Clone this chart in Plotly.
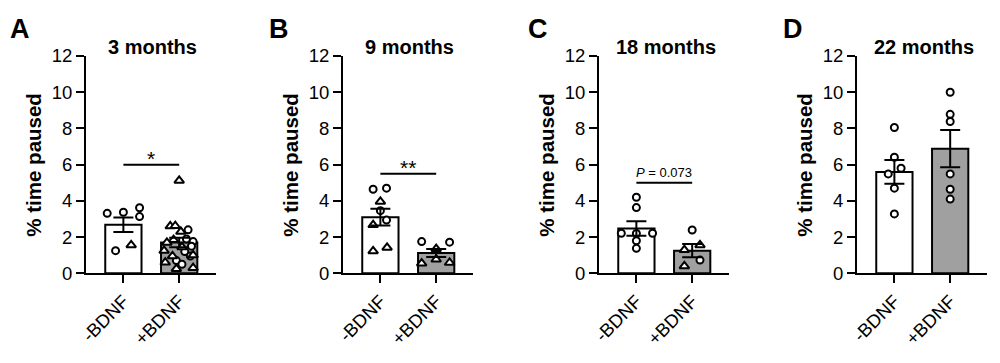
import plotly.graph_objects as go

W, H = 1000, 363

panel_letters = ["A", "B", "C", "D"]
panel_titles = ["3 months", "9 months", "18 months", "22 months"]
categories = ["-BDNF", "+BDNF"]
y_ticks = [0, 2, 4, 6, 8, 10, 12]
y_label = "% time paused"

# bar heights (mean) and SEM: [-BDNF, +BDNF]
means_a = [2.68, 1.70]
sem_a = [0.40, 0.26]
means_b = [3.10, 1.12]
sem_b = [0.46, 0.22]
means_c = [2.48, 1.25]
sem_c = [0.40, 0.37]
means_d = [5.60, 6.88]
sem_d = [0.65, 1.03]

# individual points: values and horizontal jitter (category units)
a_minus_circles = [3.31, 3.37, 3.62, 3.13, 1.25]
a_minus_circles_dx = [-0.29, 0.0, 0.29, 0.29, -0.14]
a_minus_triangles = [1.56]
a_minus_triangles_dx = [0.14]
a_plus_circles = [2.40, 1.90, 1.75, 1.50, 1.20, 0.95, 0.70, 0.50]
a_plus_circles_dx = [0.16, 0.13, 0.25, 0.22, 0.10, 0.20, -0.05, 0.05]
a_plus_triangles = [5.12, 2.60, 2.62, 2.30, 1.85, 1.70, 1.45, 1.25, 1.00, 0.95, 0.60, 0.30, 0.25]
a_plus_triangles_dx = [0.0, -0.16, -0.07, 0.03, -0.10, -0.22, 0.05, -0.27, 0.25, -0.12, -0.25, 0.25, -0.05]

b_minus_circles = [4.64, 4.70, 3.46, 2.94]
b_minus_circles_dx = [-0.13, 0.11, 0.0, 0.11]
b_minus_triangles = [3.96, 2.67, 1.23, 1.42]
b_minus_triangles_dx = [0.0, -0.13, -0.13, 0.12]
b_plus_circles = [1.75, 1.72]
b_plus_circles_dx = [-0.26, 0.24]
b_plus_triangles = [1.35, 0.77, 0.55, 0.59]
b_plus_triangles_dx = [0.0, 0.0, -0.26, 0.24]

c_minus_circles = [4.20, 3.63, 2.21, 2.21, 2.20, 1.80, 1.38]
c_minus_circles_dx = [0.0, 0.0, -0.27, 0.29, 0.0, 0.0, 0.0]
c_minus_triangles = []
c_minus_triangles_dx = []
c_plus_circles = [2.39, 0.73]
c_plus_circles_dx = [0.0, 0.14]
c_plus_triangles = [1.29, 1.56, 0.40]
c_plus_triangles_dx = [-0.14, 0.14, -0.14]

d_minus_circles = [8.05, 6.41, 5.80, 5.49, 4.70, 3.28]
d_minus_circles_dx = [0.0, 0.0, 0.12, -0.11, 0.0, 0.0]
d_minus_triangles = []
d_minus_triangles_dx = []
d_plus_circles = [10.0, 8.78, 8.38, 5.49, 4.64, 4.10]
d_plus_circles_dx = [0.0, 0.0, 0.0, 0.0, 0.0, 0.0]
d_plus_triangles = []
d_plus_triangles_dx = []

# significance annotations: (label, bar height)
sig_labels = ["*", "**", "<i>P</i> = 0.073", None]
sig_heights = [6.0, 5.5, 5.0, None]

panels = [
    (means_a, sem_a, [(a_minus_circles, a_minus_circles_dx, a_minus_triangles, a_minus_triangles_dx),
                      (a_plus_circles, a_plus_circles_dx, a_plus_triangles, a_plus_triangles_dx)]),
    (means_b, sem_b, [(b_minus_circles, b_minus_circles_dx, b_minus_triangles, b_minus_triangles_dx),
                      (b_plus_circles, b_plus_circles_dx, b_plus_triangles, b_plus_triangles_dx)]),
    (means_c, sem_c, [(c_minus_circles, c_minus_circles_dx, c_minus_triangles, c_minus_triangles_dx),
                      (c_plus_circles, c_plus_circles_dx, c_plus_triangles, c_plus_triangles_dx)]),
    (means_d, sem_d, [(d_minus_circles, d_minus_circles_dx, d_minus_triangles, d_minus_triangles_dx),
                      (d_plus_circles, d_plus_circles_dx, d_plus_triangles, d_plus_triangles_dx)]),
]

# layout geometry (pixels)
axis_left_px = [86, 343, 599, 857]
axis_len_px = 130
plot_top_px = 56
plot_bottom_px = 273.3
letter_left_px = [8, 267, 526, 781]

FONT = "Liberation Sans, Arial, sans-serif"
BAR_FILLS = ["white", "#a0a0a0"]

fig = go.Figure()
layout = dict(
    width=W, height=H,
    template="none",
    margin=dict(l=0, r=0, t=0, b=0, pad=0),
    paper_bgcolor="white", plot_bgcolor="white",
    showlegend=False,
    font=dict(family=FONT, color="black", size=18),
    annotations=[], shapes=[],
)

def px_x(p):
    return p / W

def px_y(p):
    return 1 - p / H

for i, (means, sems, groups) in enumerate(panels):
    xa = "x" if i == 0 else f"x{i+1}"
    ya = "y" if i == 0 else f"y{i+1}"
    xkey = "xaxis" if i == 0 else f"xaxis{i+1}"
    ykey = "yaxis" if i == 0 else f"yaxis{i+1}"

    x0 = axis_left_px[i]
    layout[xkey] = dict(
        domain=[px_x(x0), px_x(x0 + axis_len_px)], anchor=ya, automargin=False,
        range=[-0.67, 1.66], tickmode="array", tickvals=[0, 1], ticktext=categories,
        tickangle=-45, ticks="outside", ticklen=8, tickwidth=2, tickcolor="black",
        showline=True, linewidth=2, linecolor="black", showgrid=False, zeroline=False,
        tickfont=dict(size=18.5, family=FONT, color="black"), fixedrange=True,
    )
    layout[ykey] = dict(
        domain=[px_y(plot_bottom_px), px_y(plot_top_px)], anchor=xa, automargin=False,
        range=[0, 12], tickmode="array", tickvals=y_ticks,
        ticks="outside", ticklen=8, tickwidth=2, tickcolor="black",
        showline=True, linewidth=2, linecolor="black", showgrid=False, zeroline=False,
        tickfont=dict(size=18.5, family=FONT, color="black"), fixedrange=True,
    )

    fig.add_trace(go.Bar(
        x=[0, 1], y=means, width=0.65, xaxis=xa, yaxis=ya,
        marker=dict(color=BAR_FILLS, line=dict(color="black", width=2)),
        hoverinfo="skip",
    ))

    for g, (circ, circ_dx, tri, tri_dx) in enumerate(groups):
        if circ:
            fig.add_trace(go.Scatter(
                x=[g + d for d in circ_dx], y=circ, mode="markers", xaxis=xa, yaxis=ya,
                cliponaxis=False,
                marker=dict(symbol="circle", size=7, color="white",
                            line=dict(color="black", width=2)),
            ))
        if tri:
            fig.add_trace(go.Scatter(
                x=[g + d for d in tri_dx], y=tri, mode="markers", xaxis=xa, yaxis=ya,
                cliponaxis=False,
                marker=dict(symbol="triangle-up", size=8.5, color="white",
                            line=dict(color="black", width=2)),
            ))

    fig.add_trace(go.Scatter(
        x=[0, 1], y=means, mode="markers", xaxis=xa, yaxis=ya,
        marker=dict(size=1, opacity=0), cliponaxis=False,
        error_y=dict(type="data", array=sems, visible=True, color="black",
                     thickness=2, width=10),
        hoverinfo="skip",
    ))

    # significance bar
    if sig_heights[i] is not None:
        layout["shapes"].append(dict(
            type="line", xref=xa, yref=ya, x0=0, x1=1,
            y0=sig_heights[i], y1=sig_heights[i],
            line=dict(color="black", width=2),
        ))
        is_p = sig_labels[i].startswith("<i>")
        layout["annotations"].append(dict(
            xref=xa, yref=ya, x=0.5, y=sig_heights[i], text=sig_labels[i],
            showarrow=False, xanchor="center", yanchor="bottom",
            yshift=(1 if is_p else -7),
            font=dict(size=(13 if is_p else 21), family=FONT, color="black"),
        ))

    # panel title
    layout["annotations"].append(dict(
        xref="paper", yref="paper", x=px_x(x0 + axis_len_px / 2 + 1.5), y=px_y(47),
        text=f"<b>{panel_titles[i]}</b>", showarrow=False,
        xanchor="center", yanchor="middle",
        font=dict(size=20, family=FONT, color="black"),
    ))
    # y-axis title
    layout["annotations"].append(dict(
        xref="paper", yref="paper", x=px_x(x0 - 52), y=px_y((plot_top_px + plot_bottom_px) / 2),
        text=f"<b>{y_label}</b>", showarrow=False, textangle=-90,
        xanchor="center", yanchor="middle",
        font=dict(size=20.5, family=FONT, color="black"),
    ))
    # panel letter
    layout["annotations"].append(dict(
        xref="paper", yref="paper", x=px_x(letter_left_px[i]), y=px_y(29),
        text=f"<b>{panel_letters[i]}</b>", showarrow=False,
        xanchor="left", yanchor="middle",
        font=dict(size=27, family=FONT, color="black"),
    ))

fig.update_layout(**layout)
fig.write_html(
    "out.html",
    config={"displayModeBar": False, "staticPlot": True},
    post_script="document.body.style.margin='0';document.body.style.padding='0';",
)
